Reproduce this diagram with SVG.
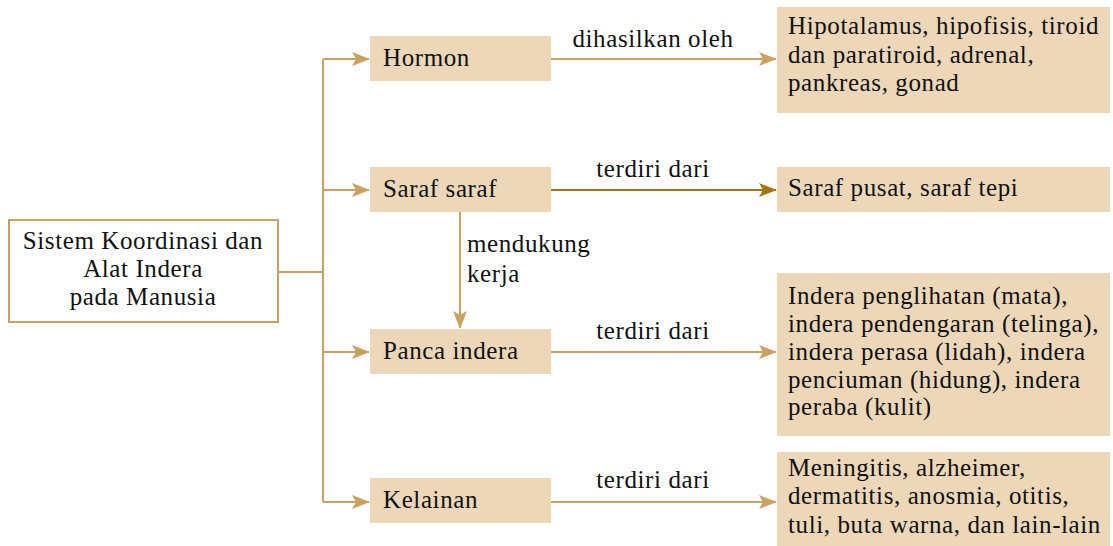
<svg xmlns="http://www.w3.org/2000/svg" width="1113" height="546" viewBox="0 0 1113 546">
<style>
.t{font-family:"Liberation Serif","Times New Roman",serif;font-size:25px;letter-spacing:0.6px;fill:#111}
.box{fill:#ecd8b9}
.root{fill:#fff;stroke:#c9a263;stroke-width:2}
.ln{fill:none;stroke:#c9a263;stroke-width:2}
.dk{fill:none;stroke:#a6750f;stroke-width:2}
</style>
<defs>
<marker id="a" markerUnits="userSpaceOnUse" markerWidth="18" markerHeight="14" viewBox="0 0 18 14" refX="17" refY="7" orient="auto"><path d="M0,0 L18,7 L0,14 L4,7 Z" fill="#c9a263"/></marker>
<marker id="ad" markerUnits="userSpaceOnUse" markerWidth="18" markerHeight="14" viewBox="0 0 18 14" refX="17" refY="7" orient="auto"><path d="M0,0 L18,7 L0,14 L4,7 Z" fill="#a6750f"/></marker>
</defs>
<g id="connectors">
<path class="ln" d="M279,272 H323 M323,59 V502"/>
<path class="ln" d="M323,59 H369" marker-end="url(#a)"/>
<path class="ln" d="M323,190 H369" marker-end="url(#a)"/>
<path class="ln" d="M323,352 H369" marker-end="url(#a)"/>
<path class="ln" d="M323,502 H369" marker-end="url(#a)"/>
<path class="ln" d="M551,59 H776" marker-end="url(#a)"/>
<path class="dk" d="M551,190 H776" marker-end="url(#ad)"/>
<path class="ln" d="M551,352 H776" marker-end="url(#a)"/>
<path class="ln" d="M551,502 H776" marker-end="url(#a)"/>
<path class="ln" d="M460,212 V328" marker-end="url(#a)"/>
<text class="t" x="653" y="47" text-anchor="middle">dihasilkan oleh</text>
<text class="t" x="653" y="177" text-anchor="middle">terdiri dari</text>
<text class="t" x="653" y="339" text-anchor="middle">terdiri dari</text>
<text class="t" x="653" y="488" text-anchor="middle">terdiri dari</text>
<text class="t" x="467" y="252">mendukung</text>
<text class="t" x="467" y="282">kerja</text>
</g>
<g id="root">
<rect class="root" x="9" y="220" width="269" height="102"/>
<text class="t" x="143" y="249" text-anchor="middle">Sistem Koordinasi dan</text>
<text class="t" x="143" y="277" text-anchor="middle">Alat Indera</text>
<text class="t" x="143" y="305" text-anchor="middle">pada Manusia</text>
</g>
<g id="hormon">
<rect class="box" x="370" y="36" width="181" height="45"/>
<text class="t" x="383" y="66">Hormon</text>
</g>
<g id="saraf">
<rect class="box" x="370" y="167" width="181" height="45"/>
<text class="t" x="383" y="197">Saraf saraf</text>
</g>
<g id="panca">
<rect class="box" x="370" y="329" width="181" height="45"/>
<text class="t" x="383" y="359">Panca indera</text>
</g>
<g id="kelainan">
<rect class="box" x="370" y="478" width="181" height="45"/>
<text class="t" x="383" y="508">Kelainan</text>
</g>
<g id="kelenjar">
<rect class="box" x="777" y="7" width="333" height="106"/>
<text class="t" x="788" y="34">Hipotalamus, hipofisis, tiroid</text>
<text class="t" x="788" y="63">dan paratiroid, adrenal,</text>
<text class="t" x="788" y="91">pankreas, gonad</text>
</g>
<g id="saraf-jenis">
<rect class="box" x="777" y="167" width="333" height="45"/>
<text class="t" x="788" y="196">Saraf pusat, saraf tepi</text>
</g>
<g id="indera-jenis">
<rect class="box" x="777" y="273" width="333" height="163"/>
<text class="t" x="788" y="304">Indera penglihatan (mata),</text>
<text class="t" x="788" y="332">indera pendengaran (telinga),</text>
<text class="t" x="788" y="360">indera perasa (lidah), indera</text>
<text class="t" x="788" y="388">penciuman (hidung), indera</text>
<text class="t" x="788" y="415">peraba (kulit)</text>
</g>
<g id="kelainan-jenis">
<rect class="box" x="777" y="452" width="333" height="94"/>
<text class="t" x="788" y="476">Meningitis, alzheimer,</text>
<text class="t" x="788" y="504">dermatitis, anosmia, otitis,</text>
<text class="t" x="788" y="533">tuli, buta warna, dan lain-lain</text>
</g>
</svg>
